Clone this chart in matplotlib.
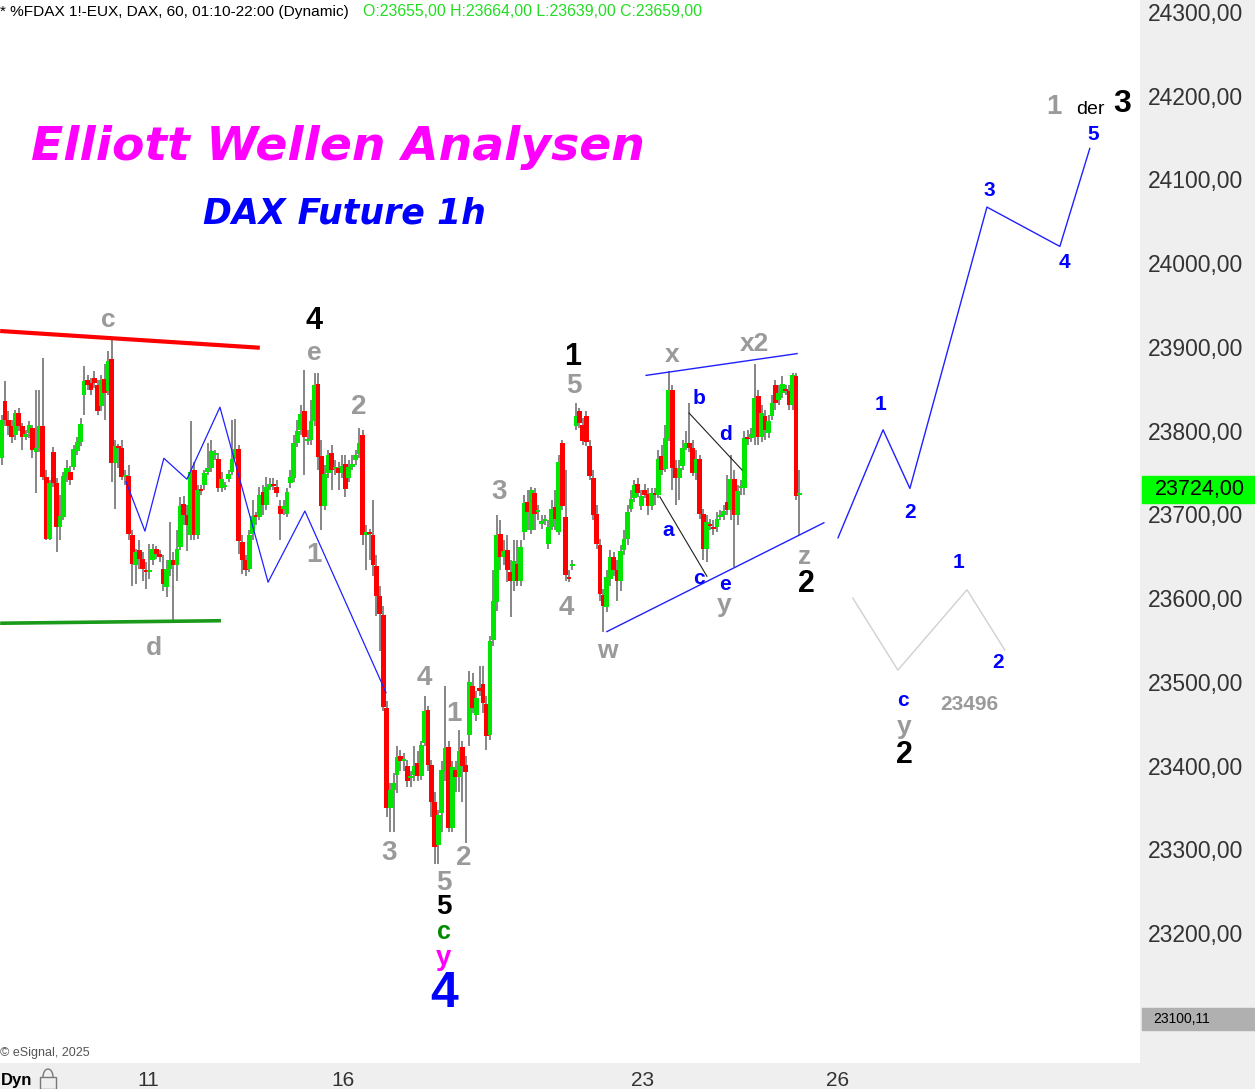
import matplotlib
matplotlib.use("Agg")
import matplotlib.pyplot as plt
from matplotlib.patches import Rectangle, Arc
import numpy as np

# hourly FDAX candles (open, high, low, close)
opens = [
    23767, 23835, 23813, 23806, 23795, 23821, 23805, 23793, 23797, 23803,
    23775, 23779, 23805, 23745, 23671, 23775, 23737, 23685, 23697, 23745,
    23751, 23757, 23776, 23787, 23843, 23860, 23857, 23863, 23854, 23829,
    23862, 23847, 23885, 23761, 23781, 23779, 23745, 23746, 23675, 23640,
    23657, 23647, 23634, 23631, 23645, 23659, 23653, 23635, 23613, 23635,
    23645, 23639, 23661, 23712, 23699, 23675, 23753, 23675, 23730, 23735,
    23751, 23755, 23771, 23766, 23731, 23733, 23742, 23751, 23766, 23778,
    23667, 23645, 23635, 23677, 23698, 23697, 23727, 23711, 23733, 23735,
    23733, 23710, 23707, 23701, 23737, 23743, 23785, 23801, 23823, 23788,
    23789, 23811, 23856, 23770, 23710, 23749, 23773, 23754, 23755, 23749,
    23760, 23743, 23757, 23765, 23772, 23795, 23675, 23679, 23675, 23638,
    23603, 23580, 23469, 23349, 23371, 23389, 23412, 23405, 23399, 23385,
    23389, 23403, 23387, 23427, 23466, 23401, 23357, 23305, 23343, 23393,
    23422, 23325, 23395, 23386, 23422, 23401, 23437, 23495, 23460, 23493,
    23497, 23473, 23436, 23550, 23595, 23677, 23649, 23658, 23631, 23621,
    23641, 23621, 23679, 23715, 23681, 23725, 23703, 23689, 23692, 23665,
    23685, 23709, 23679, 23785, 23697, 23625, 23638, 23805, 23823, 23807,
    23817, 23782, 23743, 23700, 23664, 23604, 23589, 23623, 23649, 23633,
    23620, 23657, 23670, 23707, 23719, 23736, 23710, 23729, 23724, 23710,
    23725, 23723, 23770, 23754, 23791, 23848, 23755, 23743, 23758, 23779,
    23785, 23779, 23749, 23766, 23701, 23659, 23689, 23685, 23685, 23697,
    23699, 23715, 23705, 23742, 23699, 23731, 23731, 23793, 23791, 23793,
    23841, 23793, 23818, 23797, 23817, 23854, 23836, 23845, 23850, 23847,
    23831, 23865, 23723]
highs = [
    23819, 23859, 23823, 23813, 23825, 23827, 23809, 23801, 23812, 23807,
    23849, 23849, 23887, 23753, 23741, 23781, 23743, 23723, 23751, 23765,
    23758, 23783, 23793, 23815, 23877, 23866, 23863, 23871, 23861, 23867,
    23879, 23895, 23909, 23789, 23784, 23789, 23753, 23759, 23681, 23659,
    23669, 23655, 23643, 23665, 23665, 23662, 23657, 23651, 23645, 23691,
    23655, 23681, 23721, 23722, 23711, 23811, 23763, 23735, 23735, 23753,
    23785, 23789, 23777, 23773, 23751, 23739, 23753, 23813, 23814, 23783,
    23675, 23651, 23681, 23717, 23703, 23733, 23735, 23745, 23743, 23743,
    23741, 23717, 23717, 23731, 23753, 23795, 23813, 23831, 23873, 23801,
    23837, 23869, 23869, 23789, 23759, 23777, 23783, 23765, 23763, 23771,
    23771, 23765, 23771, 23777, 23803, 23801, 23687, 23683, 23717, 23651,
    23615, 23591, 23477, 23379, 23391, 23423, 23419, 23415, 23407, 23393,
    23423, 23417, 23429, 23483, 23471, 23407, 23369, 23347, 23405, 23495,
    23429, 23405, 23405, 23443, 23429, 23411, 23513, 23511, 23489, 23519,
    23519, 23483, 23555, 23633, 23699, 23693, 23669, 23675, 23645, 23669,
    23669, 23669, 23723, 23729, 23733, 23731, 23711, 23699, 23699, 23693,
    23717, 23729, 23771, 23789, 23753, 23633, 23645, 23833, 23827, 23815,
    23823, 23789, 23753, 23711, 23671, 23611, 23633, 23657, 23655, 23645,
    23663, 23681, 23711, 23729, 23741, 23743, 23729, 23736, 23731, 23731,
    23731, 23777, 23783, 23807, 23871, 23855, 23765, 23765, 23789, 23799,
    23833, 23789, 23777, 23771, 23707, 23699, 23695, 23693, 23703, 23705,
    23711, 23747, 23771, 23753, 23735, 23741, 23799, 23801, 23803, 23880,
    23849, 23831, 23825, 23819, 23843, 23861, 23855, 23865, 23855, 23855,
    23869, 23869, 23753]
lows = [
    23759, 23805, 23795, 23785, 23789, 23799, 23777, 23789, 23791, 23767,
    23725, 23775, 23741, 23669, 23669, 23733, 23655, 23669, 23693, 23739,
    23735, 23753, 23771, 23782, 23819, 23849, 23843, 23851, 23819, 23823,
    23813, 23842, 23739, 23707, 23755, 23741, 23735, 23669, 23615, 23617,
    23635, 23621, 23611, 23623, 23639, 23647, 23643, 23609, 23601, 23627,
    23573, 23621, 23657, 23687, 23656, 23669, 23669, 23671, 23723, 23729,
    23747, 23751, 23765, 23727, 23727, 23729, 23739, 23747, 23775, 23653,
    23629, 23627, 23631, 23669, 23687, 23693, 23699, 23705, 23729, 23729,
    23721, 23669, 23699, 23697, 23731, 23739, 23781, 23795, 23747, 23783,
    23783, 23805, 23753, 23681, 23705, 23743, 23729, 23747, 23729, 23743,
    23721, 23739, 23753, 23759, 23767, 23663, 23633, 23645, 23627, 23579,
    23537, 23465, 23339, 23321, 23321, 23367, 23393, 23393, 23375, 23375,
    23381, 23381, 23383, 23423, 23393, 23339, 23283, 23283, 23321, 23381,
    23321, 23321, 23369, 23369, 23357, 23307, 23423, 23463, 23453, 23483,
    23463, 23419, 23431, 23543, 23585, 23633, 23639, 23619, 23577, 23609,
    23615, 23615, 23669, 23681, 23677, 23681, 23693, 23683, 23687, 23659,
    23681, 23681, 23675, 23705, 23621, 23619, 23633, 23801, 23803, 23783,
    23782, 23741, 23693, 23659, 23597, 23559, 23583, 23615, 23627, 23597,
    23609, 23651, 23663, 23703, 23715, 23721, 23705, 23719, 23699, 23705,
    23711, 23719, 23747, 23751, 23788, 23729, 23711, 23717, 23753, 23777,
    23775, 23746, 23741, 23695, 23645, 23643, 23681, 23675, 23679, 23693,
    23693, 23699, 23693, 23637, 23687, 23723, 23723, 23783, 23787, 23783,
    23783, 23787, 23789, 23791, 23813, 23825, 23831, 23839, 23842, 23825,
    23825, 23717, 23675]
closes = [
    23813, 23813, 23805, 23793, 23821, 23805, 23793, 23795, 23807, 23777,
    23779, 23805, 23745, 23671, 23737, 23737, 23685, 23698, 23746, 23755,
    23741, 23778, 23787, 23808, 23859, 23855, 23848, 23857, 23823, 23861,
    23845, 23883, 23761, 23782, 23779, 23745, 23746, 23677, 23641, 23655,
    23647, 23635, 23631, 23632, 23659, 23653, 23649, 23617, 23635, 23645,
    23639, 23659, 23710, 23699, 23687, 23751, 23675, 23729, 23728, 23749,
    23755, 23776, 23772, 23731, 23742, 23734, 23748, 23766, 23778, 23668,
    23645, 23634, 23675, 23698, 23697, 23723, 23711, 23733, 23736, 23734,
    23725, 23701, 23709, 23727, 23745, 23785, 23800, 23820, 23793, 23789,
    23811, 23854, 23769, 23710, 23748, 23771, 23753, 23755, 23749, 23758,
    23730, 23757, 23760, 23771, 23785, 23675, 23679, 23677, 23640, 23603,
    23581, 23470, 23349, 23371, 23379, 23410, 23405, 23407, 23382, 23386,
    23399, 23387, 23424, 23465, 23401, 23357, 23303, 23341, 23395, 23421,
    23326, 23398, 23386, 23418, 23399, 23392, 23500, 23469, 23481, 23489,
    23475, 23435, 23549, 23597, 23675, 23649, 23656, 23634, 23621, 23644,
    23621, 23661, 23713, 23703, 23729, 23701, 23704, 23692, 23693, 23685,
    23706, 23694, 23763, 23710, 23628, 23623, 23639, 23817, 23809, 23788,
    23787, 23746, 23699, 23665, 23605, 23590, 23625, 23649, 23634, 23620,
    23656, 23670, 23703, 23718, 23735, 23725, 23722, 23723, 23710, 23725,
    23723, 23766, 23753, 23791, 23848, 23755, 23743, 23755, 23779, 23785,
    23779, 23749, 23766, 23701, 23659, 23691, 23686, 23682, 23695, 23699,
    23704, 23705, 23742, 23699, 23728, 23733, 23791, 23790, 23796, 23839,
    23793, 23821, 23801, 23812, 23833, 23833, 23845, 23856, 23847, 23831,
    23866, 23722, 23724]

# day labels on the time axis (bar index where the day starts)
day_ticks = [42.6, 99.3, 186.5, 243.2]
day_labels = ["11", "16", "23", "26"]

price_ticks = list(range(23200, 24301, 100))
last_price = 23724.00
scale_low = 23100.11

# drawn lines: (bar index, price)
red_line = ([-0.4, 75.1], [23919, 23899])
green_line = ([-0.4, 63.8], [23570, 23573])
wave_path_left = ([36.2, 41.7, 47.2, 53.9, 63.5, 77.5, 88.2, 111.8],
                  [23739, 23680, 23767, 23742, 23828, 23619, 23704, 23487])
upper_trend = ([187.4, 231.3], [23866, 23892])
lower_trend = ([176.0, 239.1], [23560, 23690])
line_ac = ([191.4, 205.1], [23721, 23626])
line_bd = ([199.9, 215.3], [23821, 23753])
proj_main = ([243.2, 256.3, 264.1, 286.5, 307.7, 316.4],
             [23672, 23801, 23731, 24067, 24020, 24137])
proj_alt = ([247.5, 260.6, 280.7, 291.7], [23600, 23514, 23610, 23538])

W, H = 1255, 1089
fig = plt.figure(figsize=(W / 100, H / 100), dpi=100)
fig.patch.set_facecolor("white")

# grey panels for price scale and time scale
fig.patches.append(Rectangle((1140 / W, 0), 1, 1, transform=fig.transFigure,
                             color="#efefef", zorder=-2))
fig.patches.append(Rectangle((0, 0), 1, 26 / H, transform=fig.transFigure,
                             color="#efefef", zorder=-2))

ax = fig.add_axes([0, 26 / H, 1140 / W, 1063 / H])
ax.set_facecolor("white")
ax.set_xlim(-0.44, 331.0)
ax.set_ylim(23044.8, 24314.3)
for s in ax.spines.values():
    s.set_visible(False)

o = np.array(opens, float)
h = np.array(highs, float)
l = np.array(lows, float)
c = np.array(closes, float)
x = np.arange(len(o))
up = c >= o
cols = np.where(up, "#00e600", "#ff0000")
body_lo = np.minimum(o, c)
body_h = np.maximum(np.abs(c - o), 2.5)

ax.vlines(x, l, h, color="#666666", lw=1.1, zorder=2)
ax.bar(x, body_h, bottom=body_lo, width=1.4, color=cols, linewidth=0, zorder=3)

ax.plot(*red_line, color="#ff0000", lw=3.0, solid_capstyle="butt", zorder=4)
ax.plot(*green_line, color="#1a9a1a", lw=2.6, solid_capstyle="butt", zorder=4)
ax.plot(*wave_path_left, color="#2020ff", lw=0.9, zorder=4)
ax.plot(*upper_trend, color="#2020ff", lw=1.0, zorder=4)
ax.plot(*lower_trend, color="#2020ff", lw=1.0, zorder=4)
ax.plot(*line_ac, color="#202020", lw=0.8, zorder=4)
ax.plot(*line_bd, color="#202020", lw=0.8, zorder=4)
ax.plot(*proj_main, color="#2020ff", lw=1.0, zorder=4)
ax.plot(*proj_alt, color="#d0d0d0", lw=1.0, zorder=4)

# axes ticks
ax.yaxis.tick_right()
ax.set_yticks(price_ticks)
ax.set_yticklabels([f"{v:.2f}".replace(".", ",") for v in price_ticks],
                   fontfamily="Liberation Sans")
ax.tick_params(axis="y", length=0, pad=6, labelsize=16.5, labelcolor="#333333")
ax.set_xticks(day_ticks)
ax.set_xticklabels(day_labels, fontfamily="Liberation Sans")
ax.tick_params(axis="x", length=0, pad=6, labelsize=15, labelcolor="#333333")


def px(x0, y0):
    return x0 / W, 1 - y0 / H


def label(x0, y0, s, color, size, weight="bold", family="Liberation Sans", **kw):
    fig.text(*px(x0, y0), s, color=color, fontsize=size, fontweight=weight,
             family=family, ha="center", va="center", zorder=10, **kw)


grey = "#9a9a9a"
blue = "#0000ff"

# titles
label(338, 148, "Elliott Wellen Analysen", "#ff00ff", 34, family="DejaVu Sans",
      style="italic")
label(344, 213, "DAX Future 1h", blue, 25, family="DejaVu Sans", style="italic")

# wave counts
for x0, y0, s, col, size in [
    (108, 320, "c", grey, 19), (314, 321, "4", "black", 22), (314, 353, "e", grey, 19),
    (359, 407, "2", grey, 20), (314, 555, "1", grey, 20), (154, 648, "d", grey, 19),
    (499, 492, "3", grey, 20), (573, 357, "1", "black", 22), (574, 386, "5", grey, 20),
    (566, 608, "4", grey, 20), (672, 355, "x", grey, 19), (754, 344, "x2", grey, 19),
    (699, 399, "b", blue, 15), (725, 435, "d", blue, 15), (668, 530, "a", blue, 15),
    (699, 578, "c", blue, 15), (725, 584, "e", blue, 15), (724, 605, "y", grey, 19),
    (607, 651, "w", grey, 19), (805, 557, "z", grey, 19), (806, 584, "2", "black", 22),
    (424, 678, "4", grey, 20), (454, 714, "1", grey, 20), (389, 853, "3", grey, 20),
    (464, 858, "2", grey, 20), (444, 883, "5", grey, 20), (444, 907, "5", "black", 20),
    (444, 932, "c", "#008c00", 18), (444, 958, "y", "#ff00ff", 20),
    (444, 994, "4", blue, 36),
    (880, 405, "1", blue, 15), (910, 513, "2", blue, 15), (989, 191, "3", blue, 15),
    (1064, 262, "4", blue, 15), (1093, 134, "5", blue, 15),
    (1054, 107, "1", grey, 20), (1122, 104, "3", "black", 23),
    (959, 562, "1", blue, 15), (998, 663, "2", blue, 15), (903, 700, "c", blue, 15),
    (904, 727, "y", grey, 19), (904, 755, "2", "black", 22),
    (969, 704, "23496", grey, 15),
]:
    label(x0, y0, s, col, size)
label(1090, 110, "der", "black", 14, weight="normal")

# header line
fig.text(*px(0, 12), "* %FDAX 1!-EUX, DAX, 60, 01:10-22:00 (Dynamic)", color="black",
         fontsize=11.1, family="Liberation Sans", ha="left", va="center")
fig.text(*px(363, 12), "O:23655,00 H:23664,00 L:23639,00 C:23659,00", color="#22dd22",
         fontsize=11.4, family="Liberation Sans", ha="left", va="center")
fig.text(*px(0, 1053), "\u00a9 eSignal, 2025", color="#555555", fontsize=9,
         family="Liberation Sans", ha="left", va="center")

# current price and scale minimum boxes
fig.patches.append(Rectangle(px(1142, 503), 113 / W, 27 / H, transform=fig.transFigure,
                             color="#00ff00", zorder=8))
fig.text(*px(1200, 489), f"{last_price:.2f}".replace(".", ","), color="black",
         fontsize=15.5, family="Liberation Sans", ha="center", va="center", zorder=9)
fig.patches.append(Rectangle(px(1142, 1030), 113 / W, 22 / H, transform=fig.transFigure,
                             color="#b0b0b0", zorder=8))
fig.text(*px(1182, 1019), f"{scale_low:.2f}".replace(".", ","), color="black",
         fontsize=10, family="Liberation Sans", ha="center", va="center", zorder=9)

# "Dyn" and lock icon in the time scale corner
fig.text(*px(1, 1080), "Dyn", color="black", fontsize=12, fontweight="bold",
         family="Liberation Sans", ha="left", va="center")
fig.patches.append(Rectangle(px(40, 1089), 16 / W, 12 / H, transform=fig.transFigure,
                             fill=False, edgecolor="#777777", lw=1.0, zorder=8))
fig.patches.append(Arc((48 / 100, (H - 1077) / 100), 10 / 100, 16 / 100, theta1=0,
                       theta2=180, transform=fig.dpi_scale_trans,
                       edgecolor="#777777", lw=1.0, zorder=8))

fig.savefig("out.png", dpi=100)
